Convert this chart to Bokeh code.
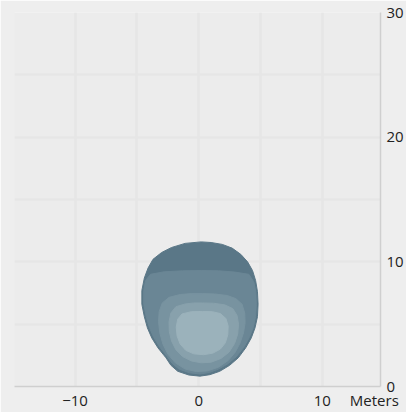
from bokeh.plotting import figure
from bokeh.models import FixedTicker, Range1d
from bokeh.embed import file_html
from bokeh.resources import INLINE

# axis ticks / labels
x_label_ticks = [-10, 0, 10]
y_label_ticks = [0, 10, 20, 30]
x_grid_ticks = [-15, -10, -5, 0, 5, 10, 15]
y_grid_ticks = [0, 5, 10, 15, 20, 25, 30]
unit_label = "Meters"
unit_label_x = 14.2

# nested density contours (meters), outermost first
layer1_x = [0.2, 1.0, 1.9, 2.7, 3.4, 3.95, 4.35, 4.6, 4.75, 4.8, 4.75, 4.55, 4.25, 3.8, 3.2, 2.5, 1.7, 0.9,
            0.1, -0.8, -1.7, -2.25, -2.65, -3.3, -3.8, -4.15, -4.4, -4.6, -4.6, -4.4, -4.1, -3.7, -3.0, -2.2, -1.1]
layer1_y = [11.6, 11.55, 11.4, 11.1, 10.6, 10.0, 9.3, 8.5, 7.6, 6.6, 5.6, 4.7, 3.9, 3.1, 2.3, 1.7, 1.22, 0.95,
            0.83, 0.92, 1.22, 1.7, 2.3, 3.1, 3.9, 4.7, 5.6, 6.6, 7.7, 8.7, 9.5, 10.2, 10.75, 11.15, 11.48]
layer2_x = [0.2, 1.6, 2.9, 4.05, 4.45, 4.62, 4.66, 4.6, 4.4, 4.1, 3.65, 3.05, 2.4, 1.6, 0.85, 0.1, -0.75,
            -1.6, -2.15, -2.55, -3.15, -3.65, -4.0, -4.25, -4.45, -4.45, -4.3, -3.9, -2.8, -1.3]
layer2_y = [9.3, 9.28, 9.18, 9.0, 8.4, 7.6, 6.6, 5.6, 4.7, 3.95, 3.15, 2.4, 1.85, 1.4, 1.12, 1.0, 1.1,
            1.4, 1.85, 2.4, 3.15, 3.95, 4.75, 5.6, 6.6, 7.7, 8.5, 9.0, 9.2, 9.28]
layer3_x = [0.3, 1.3, 2.3, 3.0, 3.5, 3.72, 3.75, 3.62, 3.35, 2.95, 2.4, 1.6, 0.7, -0.2, -1.1, -1.9, -2.5,
            -2.9, -3.15, -3.25, -3.2, -2.95, -2.4, -1.5, -0.6]
layer3_y = [7.45, 7.42, 7.3, 7.05, 6.6, 5.9, 5.1, 4.3, 3.5, 2.75, 2.1, 1.55, 1.25, 1.2, 1.4, 1.9, 2.6,
            3.4, 4.3, 5.2, 6.0, 6.7, 7.15, 7.38, 7.45]
layer4_x = [0.3, 1.2, 2.1, 2.75, 3.1, 3.22, 3.15, 2.9, 2.45, 1.8, 1.0, 0.2, -0.6, -1.3, -1.85, -2.2, -2.38,
            -2.4, -2.25, -1.85, -1.1, -0.4]
layer4_y = [6.7, 6.68, 6.55, 6.25, 5.7, 5.0, 4.2, 3.45, 2.75, 2.25, 1.95, 1.9, 2.05, 2.4, 2.95, 3.65, 4.4,
            5.2, 5.9, 6.4, 6.62, 6.7]
layer5_x = [0.3, 1.1, 1.75, 2.2, 2.38, 2.35, 2.15, 1.75, 1.15, 0.4, -0.4, -1.05, -1.5, -1.75, -1.82, -1.7,
            -1.35, -0.6]
layer5_y = [6.02, 6.0, 5.85, 5.45, 4.85, 4.15, 3.5, 3.0, 2.68, 2.55, 2.62, 2.9, 3.4, 4.05, 4.75, 5.4,
            5.82, 6.0]
layer_colors = ["#5a7787", "#6a8695", "#7893a0", "#88a1ac", "#9bb2bb"]

p = figure(width=406, height=412, output_backend="svg", toolbar_location=None,
           x_range=Range1d(-14.9, 14.7), y_range=Range1d(0, 30),
           y_axis_location="right",
           min_border_left=14, min_border_top=12, min_border_right=19, min_border_bottom=25)
p.background_fill_color = "#ececec"
p.border_fill_color = "#eeeeee"
p.outline_line_color = None

p.patches(xs=[layer1_x, layer2_x, layer3_x, layer4_x, layer5_x],
          ys=[layer1_y, layer2_y, layer3_y, layer4_y, layer5_y],
          fill_color=layer_colors, line_color=layer_colors, line_width=1)

p.xgrid.ticker = FixedTicker(ticks=x_grid_ticks)
p.ygrid.ticker = FixedTicker(ticks=y_grid_ticks)
for g in (p.xgrid, p.ygrid):
    g.grid_line_color = "#e6e6e6"
    g.grid_line_width = 2.5

p.xaxis.ticker = FixedTicker(ticks=x_label_ticks + [unit_label_x])
p.xaxis.major_label_overrides = {unit_label_x: unit_label}
p.yaxis.ticker = FixedTicker(ticks=y_label_ticks)
for ax in (p.xaxis, p.yaxis):
    ax.major_tick_out = 0
    ax.major_tick_in = 0
    ax.minor_tick_out = 0
    ax.minor_tick_in = 0
    ax.axis_line_color = "#cfcfcf"
    ax.axis_line_width = 1.5
    ax.major_label_text_font = "Open Sans"
    ax.major_label_text_font_size = "15px"
    ax.major_label_text_color = "#222222"
p.xaxis.major_label_standoff = 3
p.yaxis.major_label_standoff = 6

open("out.html", "w").write(file_html(p, INLINE))
